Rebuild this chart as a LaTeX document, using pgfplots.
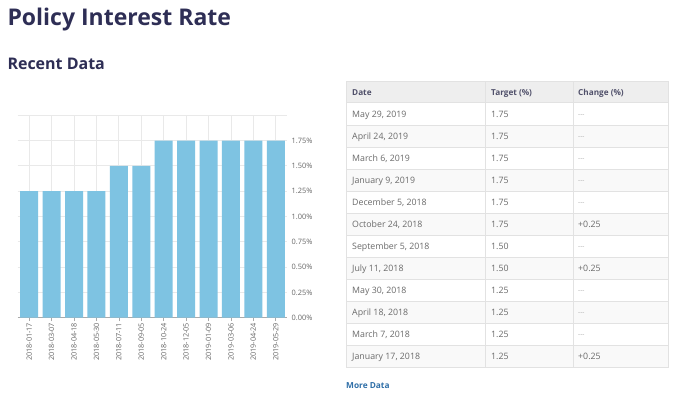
\documentclass[border=0pt]{standalone}
\usepackage{fontspec}
\setmainfont{Open Sans}
\usepackage{pgfplots}
\pgfplotsset{compat=1.18}
\definecolor{barblue}{HTML}{7EC3E2}
\definecolor{navy}{HTML}{2E2E55}
\definecolor{gridc}{HTML}{E9E9E9}
\definecolor{tickc}{HTML}{666666}
\definecolor{axc}{HTML}{AAAAAA}
\definecolor{hdr}{HTML}{EEEEEE}
\definecolor{alt}{HTML}{F9F9F9}
\definecolor{brd}{HTML}{E2E2E2}
\definecolor{txt}{HTML}{6A6A6A}
\definecolor{hdrtxt}{HTML}{50506A}
\definecolor{dash}{HTML}{AAAAAA}
\definecolor{link}{HTML}{2F6FA8}
\begin{document}
\begin{tikzpicture}[x=1pt,y=1pt]
\fill[white] (0,0) rectangle (680,396);
% titles
\node[anchor=base west, inner sep=0, text=navy, font=\fontsize{23}{28}\selectfont\bfseries] at (7.3,370) {Policy Interest Rate};
\node[anchor=base west, inner sep=0, text=navy, font=\fontsize{16}{19}\selectfont\bfseries] at (7.3,326) {Recent Data};
% chart
\begin{axis}[at={(18pt,78.3pt)}, anchor=south west, scale only axis,
  width=269pt, height=202.4pt,
  xmin=-0.5, xmax=11.5, ymin=0, ymax=2,
  ybar, bar width=18pt,
  separate axis lines,
  axis x line*=bottom, axis y line*=right,
  x axis line style={draw=axc, line width=0.8pt, -},
  y axis line style={draw=none},
  xtick={0,...,11},
  xticklabels={2018-01-17,2018-03-07,2018-04-18,2018-05-30,2018-07-11,2018-09-05,2018-10-24,2018-12-05,2019-01-09,2019-03-06,2019-04-24,2019-05-29},
  x tick label style={rotate=90, anchor=east, font=\fontsize{7.3}{8}\selectfont, text=tickc, inner sep=1.5pt},
  ytick={0,0.25,0.5,0.75,1,1.25,1.5,1.75,2},
  yticklabels={0.00\%,0.25\%,0.50\%,0.75\%,1.00\%,1.25\%,1.50\%,1.75\%,{}},
  y tick label style={anchor=west, font=\fontsize{7.4}{8}\selectfont, text=tickc, inner sep=0pt, xshift=1pt},
  xmajorgrids, ymajorgrids,
  major grid style={draw=gridc, line width=0.8pt},
  tick align=outside,
  major tick length=3.5pt,
  xtick style={draw=axc, line width=0.6pt},
  ytick style={draw=none},
  clip=false,
]
\addplot[fill=barblue, draw=none] coordinates {
(0,1.25) (1,1.25) (2,1.25) (3,1.25) (4,1.50) (5,1.50)
(6,1.75) (7,1.75) (8,1.75) (9,1.75) (10,1.75) (11,1.75)};
\end{axis}
% table
\def\rh{22.06}
\fill[hdr] (346,293) rectangle (668.3,314.3);
\foreach \i in {1,3,5,7,9,11}{
  \fill[alt] (346,{293-\i*\rh}) rectangle (668.3,{293-(\i+1)*\rh});
}
\foreach \i in {0,...,12}{
  \draw[brd, line width=1pt] (346,{293-\i*\rh}) -- (668.3,{293-\i*\rh});
}
\draw[brd, line width=1pt] (346,314.3) rectangle (668.3,28.3);
\draw[brd, line width=1.2pt] (485.7,314.3) -- (485.7,28.3);
\draw[brd, line width=1.2pt] (573.3,314.3) -- (573.3,28.3);
\begin{scope}[every node/.style={anchor=base west, inner sep=0, font=\fontsize{8.2}{9}\selectfont\bfseries, text=hdrtxt}]
\node at (352,300.7) {Date};
\node at (491,300.7) {Target (\%)};
\node at (578,300.7) {Change (\%)};
\end{scope}
\begin{scope}[every node/.style={anchor=base west, inner sep=0, font=\fontsize{8.8}{10}\selectfont, text=txt}]
\foreach \d/\t/\c [count=\i from 0] in {
  {May 29, 2019}/1.75/0,
  {April 24, 2019}/1.75/0,
  {March 6, 2019}/1.75/0,
  {January 9, 2019}/1.75/0,
  {December 5, 2018}/1.75/0,
  {October 24, 2018}/1.75/1,
  {September 5, 2018}/1.50/0,
  {July 11, 2018}/1.50/1,
  {May 30, 2018}/1.25/0,
  {April 18, 2018}/1.25/0,
  {March 7, 2018}/1.25/0,
  {January 17, 2018}/1.25/1}{
  \node at (352,{293-(\i+0.5)*\rh-3.1}) {\d};
  \node at (491,{293-(\i+0.5)*\rh-3.1}) {\t};
  \ifnum\c=1
    \node at (578,{293-(\i+0.5)*\rh-3.1}) {+0.25};
  \else
    \node[text=dash, font=\fontsize{6.5}{7}\selectfont] at (578,{293-(\i+0.5)*\rh-2.2}) {-{}-{}-};
  \fi
}
\end{scope}
\node[anchor=base west, inner sep=0, text=link, font=\fontsize{8.3}{9}\selectfont\bfseries] at (346,7.6) {More Data};
\end{tikzpicture}
\end{document}
